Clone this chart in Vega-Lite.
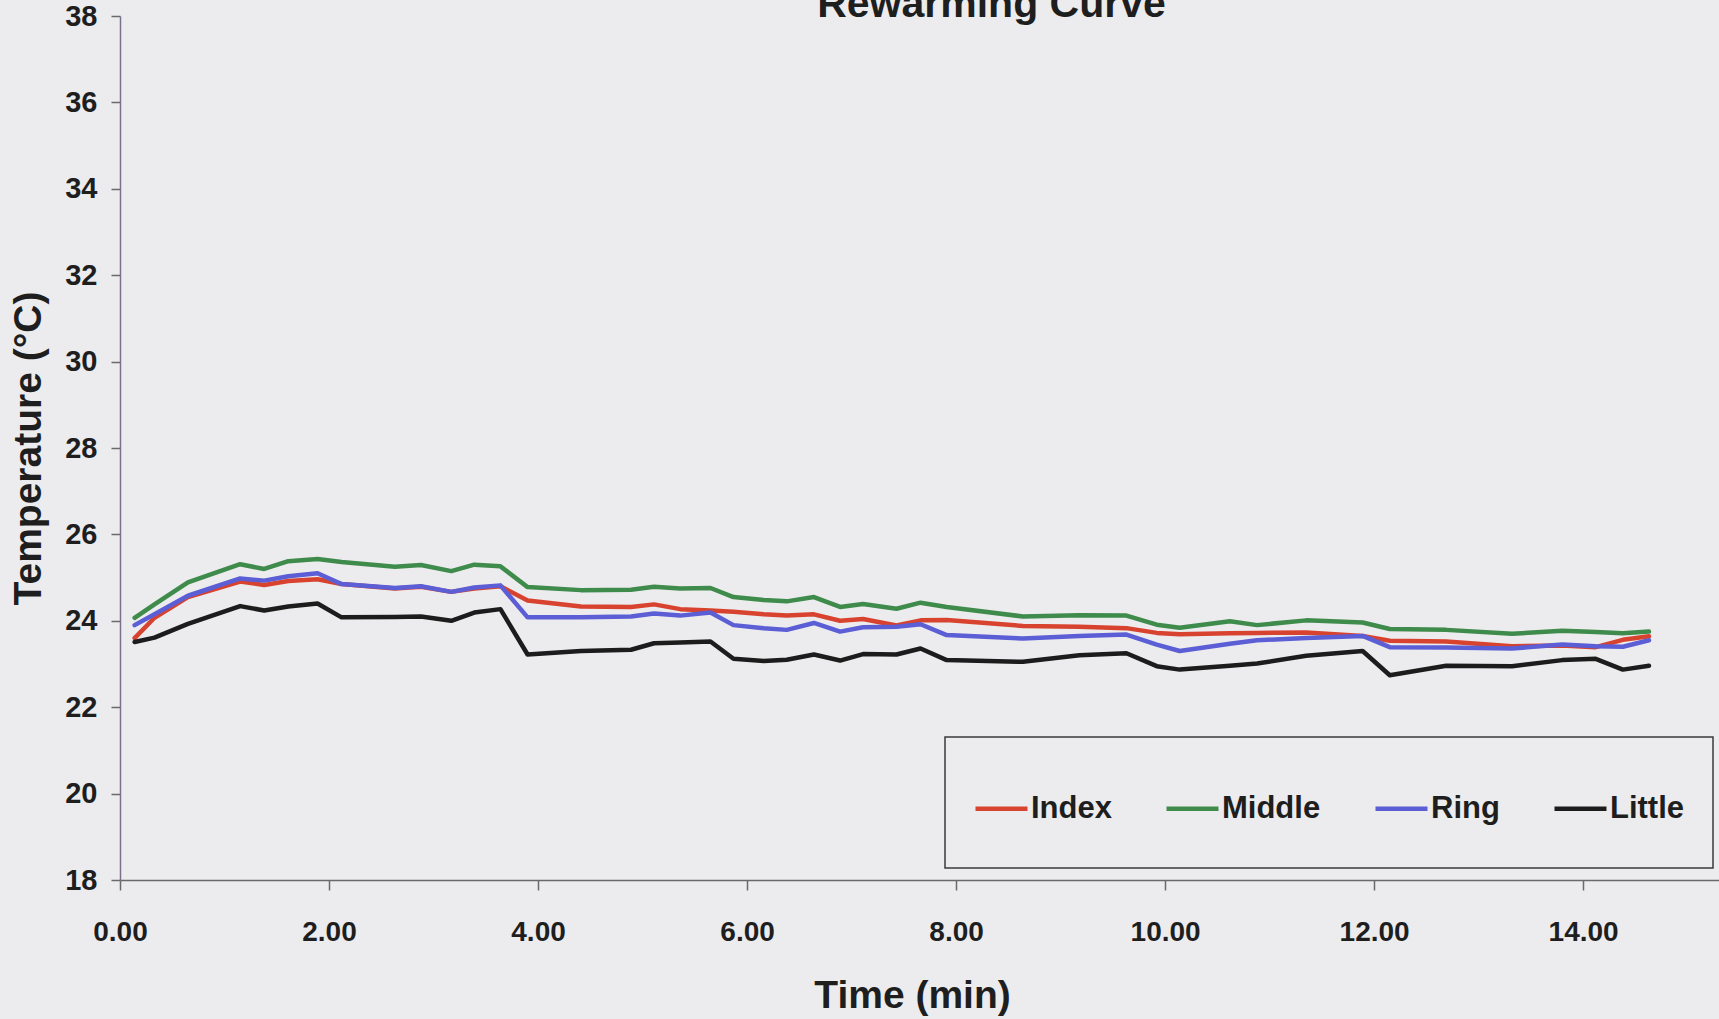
{
  "$schema": "https://vega.github.io/schema/vega-lite/v6.json",
  "width": 1599,
  "height": 864,
  "autosize": "none",
  "padding": {"left": 120, "top": 16, "right": 0, "bottom": 139},
  "background": "#ececee",
  "view": {"stroke": null},
  "config": {"legend": {"strokeWidth": 1.5}},
  "title": {
    "text": "Rewarming Curve",
    "font": "Liberation Sans",
    "fontSize": 41,
    "fontWeight": "bold",
    "color": "#1e1e1e",
    "anchor": "middle",
    "frame": "group",
    "baseline": "alphabetic",
    "offset": -56,
    "dx": 72
  },
  "data": {
    "values": [
      {"t":0.14,"finger":"Index","temp":23.60},{"t":0.14,"finger":"Middle","temp":24.07},{"t":0.14,"finger":"Ring","temp":23.90},{"t":0.14,"finger":"Little","temp":23.51},
      {"t":0.33,"finger":"Index","temp":24.07},{"t":0.33,"finger":"Middle","temp":24.38},{"t":0.33,"finger":"Ring","temp":24.15},{"t":0.33,"finger":"Little","temp":23.61},
      {"t":0.65,"finger":"Index","temp":24.55},{"t":0.65,"finger":"Middle","temp":24.89},{"t":0.65,"finger":"Ring","temp":24.58},{"t":0.65,"finger":"Little","temp":23.93},
      {"t":1.15,"finger":"Index","temp":24.91},{"t":1.15,"finger":"Middle","temp":25.31},{"t":1.15,"finger":"Ring","temp":24.98},{"t":1.15,"finger":"Little","temp":24.34},
      {"t":1.38,"finger":"Index","temp":24.83},{"t":1.38,"finger":"Middle","temp":25.20},{"t":1.38,"finger":"Ring","temp":24.93},{"t":1.38,"finger":"Little","temp":24.24},
      {"t":1.61,"finger":"Index","temp":24.92},{"t":1.61,"finger":"Middle","temp":25.38},{"t":1.61,"finger":"Ring","temp":25.03},{"t":1.61,"finger":"Little","temp":24.33},
      {"t":1.89,"finger":"Index","temp":24.96},{"t":1.89,"finger":"Middle","temp":25.43},{"t":1.89,"finger":"Ring","temp":25.10},{"t":1.89,"finger":"Little","temp":24.40},
      {"t":2.12,"finger":"Index","temp":24.85},{"t":2.12,"finger":"Middle","temp":25.36},{"t":2.12,"finger":"Ring","temp":24.85},{"t":2.12,"finger":"Little","temp":24.08},
      {"t":2.63,"finger":"Index","temp":24.75},{"t":2.63,"finger":"Middle","temp":25.25},{"t":2.63,"finger":"Ring","temp":24.76},{"t":2.63,"finger":"Little","temp":24.09},
      {"t":2.88,"finger":"Index","temp":24.79},{"t":2.88,"finger":"Middle","temp":25.29},{"t":2.88,"finger":"Ring","temp":24.80},{"t":2.88,"finger":"Little","temp":24.10},
      {"t":3.17,"finger":"Index","temp":24.67},{"t":3.17,"finger":"Middle","temp":25.15},{"t":3.17,"finger":"Ring","temp":24.67},{"t":3.17,"finger":"Little","temp":24.00},
      {"t":3.39,"finger":"Index","temp":24.75},{"t":3.39,"finger":"Middle","temp":25.30},{"t":3.39,"finger":"Ring","temp":24.77},{"t":3.39,"finger":"Little","temp":24.19},
      {"t":3.64,"finger":"Index","temp":24.80},{"t":3.64,"finger":"Middle","temp":25.26},{"t":3.64,"finger":"Ring","temp":24.82},{"t":3.64,"finger":"Little","temp":24.27},
      {"t":3.90,"finger":"Index","temp":24.47},{"t":3.90,"finger":"Middle","temp":24.78},{"t":3.90,"finger":"Ring","temp":24.08},{"t":3.90,"finger":"Little","temp":23.22},
      {"t":4.41,"finger":"Index","temp":24.33},{"t":4.41,"finger":"Middle","temp":24.71},{"t":4.41,"finger":"Ring","temp":24.08},{"t":4.41,"finger":"Little","temp":23.30},
      {"t":4.89,"finger":"Index","temp":24.32},{"t":4.89,"finger":"Middle","temp":24.72},{"t":4.89,"finger":"Ring","temp":24.10},{"t":4.89,"finger":"Little","temp":23.33},
      {"t":5.11,"finger":"Index","temp":24.38},{"t":5.11,"finger":"Middle","temp":24.79},{"t":5.11,"finger":"Ring","temp":24.17},{"t":5.11,"finger":"Little","temp":23.48},
      {"t":5.36,"finger":"Index","temp":24.27},{"t":5.36,"finger":"Middle","temp":24.75},{"t":5.36,"finger":"Ring","temp":24.12},{"t":5.36,"finger":"Little","temp":23.50},
      {"t":5.65,"finger":"Index","temp":24.24},{"t":5.65,"finger":"Middle","temp":24.76},{"t":5.65,"finger":"Ring","temp":24.19},{"t":5.65,"finger":"Little","temp":23.52},
      {"t":5.87,"finger":"Index","temp":24.21},{"t":5.87,"finger":"Middle","temp":24.55},{"t":5.87,"finger":"Ring","temp":23.90},{"t":5.87,"finger":"Little","temp":23.12},
      {"t":6.16,"finger":"Index","temp":24.15},{"t":6.16,"finger":"Middle","temp":24.48},{"t":6.16,"finger":"Ring","temp":23.83},{"t":6.16,"finger":"Little","temp":23.07},
      {"t":6.38,"finger":"Index","temp":24.12},{"t":6.38,"finger":"Middle","temp":24.45},{"t":6.38,"finger":"Ring","temp":23.79},{"t":6.38,"finger":"Little","temp":23.10},
      {"t":6.64,"finger":"Index","temp":24.15},{"t":6.64,"finger":"Middle","temp":24.55},{"t":6.64,"finger":"Ring","temp":23.95},{"t":6.64,"finger":"Little","temp":23.22},
      {"t":6.89,"finger":"Index","temp":24.00},{"t":6.89,"finger":"Middle","temp":24.32},{"t":6.89,"finger":"Ring","temp":23.75},{"t":6.89,"finger":"Little","temp":23.08},
      {"t":7.11,"finger":"Index","temp":24.04},{"t":7.11,"finger":"Middle","temp":24.39},{"t":7.11,"finger":"Ring","temp":23.85},{"t":7.11,"finger":"Little","temp":23.23},
      {"t":7.43,"finger":"Index","temp":23.89},{"t":7.43,"finger":"Middle","temp":24.28},{"t":7.43,"finger":"Ring","temp":23.86},{"t":7.43,"finger":"Little","temp":23.22},
      {"t":7.66,"finger":"Index","temp":24.01},{"t":7.66,"finger":"Middle","temp":24.42},{"t":7.66,"finger":"Ring","temp":23.92},{"t":7.66,"finger":"Little","temp":23.36},
      {"t":7.91,"finger":"Index","temp":24.02},{"t":7.91,"finger":"Middle","temp":24.32},{"t":7.91,"finger":"Ring","temp":23.67},{"t":7.91,"finger":"Little","temp":23.09},
      {"t":8.64,"finger":"Index","temp":23.88},{"t":8.64,"finger":"Middle","temp":24.10},{"t":8.64,"finger":"Ring","temp":23.59},{"t":8.64,"finger":"Little","temp":23.05},
      {"t":9.18,"finger":"Index","temp":23.86},{"t":9.18,"finger":"Middle","temp":24.13},{"t":9.18,"finger":"Ring","temp":23.65},{"t":9.18,"finger":"Little","temp":23.20},
      {"t":9.63,"finger":"Index","temp":23.83},{"t":9.63,"finger":"Middle","temp":24.12},{"t":9.63,"finger":"Ring","temp":23.68},{"t":9.63,"finger":"Little","temp":23.25},
      {"t":9.92,"finger":"Index","temp":23.72},{"t":9.92,"finger":"Middle","temp":23.91},{"t":9.92,"finger":"Ring","temp":23.45},{"t":9.92,"finger":"Little","temp":22.95},
      {"t":10.14,"finger":"Index","temp":23.69},{"t":10.14,"finger":"Middle","temp":23.84},{"t":10.14,"finger":"Ring","temp":23.30},{"t":10.14,"finger":"Little","temp":22.87},
      {"t":10.62,"finger":"Index","temp":23.71},{"t":10.62,"finger":"Middle","temp":23.99},{"t":10.62,"finger":"Ring","temp":23.47},{"t":10.62,"finger":"Little","temp":22.96},
      {"t":10.88,"finger":"Index","temp":23.72},{"t":10.88,"finger":"Middle","temp":23.90},{"t":10.88,"finger":"Ring","temp":23.55},{"t":10.88,"finger":"Little","temp":23.01},
      {"t":11.35,"finger":"Index","temp":23.73},{"t":11.35,"finger":"Middle","temp":24.01},{"t":11.35,"finger":"Ring","temp":23.60},{"t":11.35,"finger":"Little","temp":23.19},
      {"t":11.89,"finger":"Index","temp":23.65},{"t":11.89,"finger":"Middle","temp":23.96},{"t":11.89,"finger":"Ring","temp":23.65},{"t":11.89,"finger":"Little","temp":23.30},
      {"t":12.15,"finger":"Index","temp":23.54},{"t":12.15,"finger":"Middle","temp":23.81},{"t":12.15,"finger":"Ring","temp":23.39},{"t":12.15,"finger":"Little","temp":22.74},
      {"t":12.69,"finger":"Index","temp":23.52},{"t":12.69,"finger":"Middle","temp":23.79},{"t":12.69,"finger":"Ring","temp":23.38},{"t":12.69,"finger":"Little","temp":22.96},
      {"t":13.32,"finger":"Index","temp":23.41},{"t":13.32,"finger":"Middle","temp":23.70},{"t":13.32,"finger":"Ring","temp":23.36},{"t":13.32,"finger":"Little","temp":22.95},
      {"t":13.80,"finger":"Index","temp":23.43},{"t":13.80,"finger":"Middle","temp":23.77},{"t":13.80,"finger":"Ring","temp":23.45},{"t":13.80,"finger":"Little","temp":23.09},
      {"t":14.12,"finger":"Index","temp":23.39},{"t":14.12,"finger":"Middle","temp":23.74},{"t":14.12,"finger":"Ring","temp":23.41},{"t":14.12,"finger":"Little","temp":23.12},
      {"t":14.38,"finger":"Index","temp":23.56},{"t":14.38,"finger":"Middle","temp":23.71},{"t":14.38,"finger":"Ring","temp":23.40},{"t":14.38,"finger":"Little","temp":22.87},
      {"t":14.63,"finger":"Index","temp":23.64},{"t":14.63,"finger":"Middle","temp":23.75},{"t":14.63,"finger":"Ring","temp":23.55},{"t":14.63,"finger":"Little","temp":22.96}
    ]
  },
  "mark": {"type": "line", "strokeWidth": 4.5, "strokeJoin": "round", "strokeCap": "round"},
  "encoding": {
    "x": {
      "field": "t",
      "type": "quantitative",
      "scale": {"domain": [0, 15.3], "nice": false, "zero": false},
      "axis": {
        "title": "Time (min)",
        "values": [0, 2, 4, 6, 8, 10, 12, 14],
        "format": ".2f",
        "grid": false,
        "domainColor": "#6a6a6a",
        "domainWidth": 1.5,
        "tickColor": "#6a6a6a",
        "tickSize": 10,
        "tickWidth": 1.5,
        "labelFont": "Liberation Sans",
        "labelFontSize": 28,
        "labelFontWeight": "bold",
        "labelColor": "#1e1e1e",
        "labelPadding": 28,
        "labelDx": 11,
        "labelFlush": false,
        "titleFont": "Liberation Sans",
        "titleFontSize": 39,
        "titleFontWeight": "bold",
        "titleColor": "#1e1e1e",
        "titlePadding": 30,
        "titleX": 792
      }
    },
    "y": {
      "field": "temp",
      "type": "quantitative",
      "scale": {"domain": [18, 38], "nice": false, "zero": false},
      "axis": {
        "title": "Temperature (°C)",
        "values": [18, 20, 22, 24, 26, 28, 30, 32, 34, 36, 38],
        "grid": false,
        "domainColor": "#7a6f8c",
        "domainWidth": 1.5,
        "tickColor": "#6a6a6a",
        "tickSize": 9,
        "tickWidth": 1.5,
        "labelFont": "Liberation Sans",
        "labelFontSize": 29,
        "labelFontWeight": "bold",
        "labelColor": "#1e1e1e",
        "labelPadding": 14,
        "labelFlush": false,
        "titleFont": "Liberation Sans",
        "titleFontSize": 39,
        "titleFontWeight": "bold",
        "titleColor": "#1e1e1e",
        "titlePadding": 16
      }
    },
    "color": {
      "field": "finger",
      "type": "nominal",
      "scale": {
        "domain": ["Index", "Middle", "Ring", "Little"],
        "range": ["#d8432f", "#3f8b4c", "#5b5ed4", "#1c1c1c"]
      },
      "legend": {
        "title": null,
        "orient": "none",
        "legendX": 825,
        "legendY": 721,
        "direction": "horizontal",
        "columns": 4,
        "padding": 28,
        "strokeColor": "#3a3a3a",
        "fillColor": "transparent",
        "symbolType": "M-1,0H0.268M0,0.537",
        "symbolSize": 6724,
        "symbolStrokeWidth": 4.5,
        "labelOffset": -29,
        "columnPadding": 45,
        "labelFont": "Liberation Sans",
        "labelFontSize": 31,
        "labelFontWeight": "bold",
        "labelColor": "#1e1e1e",
        "labelLimit": 400
      }
    }
  }
}
